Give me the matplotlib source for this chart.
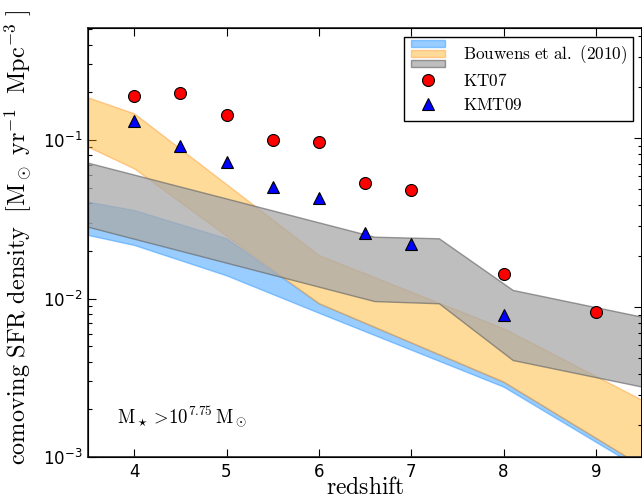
import matplotlib
matplotlib.use("Agg")
import matplotlib.pyplot as plt
import numpy as np
from matplotlib.legend_handler import HandlerBase
from matplotlib.patches import Rectangle
from matplotlib.ticker import NullFormatter

# ---------------- data ----------------
# Bouwens et al. (2010) bands (log10 SFR density)
blue_z = [3.5, 4.0, 5.0, 6.0, 8.0, 9.5]
blue_lo = [-1.599, -1.662, -1.854, -2.090, -2.556, -3.079]
blue_hi = [-1.389, -1.442, -1.620, -2.030, -2.525, -3.057]

orange_z = [3.5, 4.0, 6.0, 8.0, 9.5]
orange_lo = [-1.042, -1.179, -2.030, -2.525, -3.057]
orange_hi = [-0.731, -0.832, -1.726, -2.188, -2.640]

gray_z = [3.5, 6.6, 7.3, 8.1, 9.5]
gray_lo = [-1.547, -2.016, -2.030, -2.388, -2.556]
gray_hi = [-1.143, -1.610, -1.620, -1.946, -2.115]

# model points
kt07_z = [4, 4.5, 5, 5.5, 6, 6.5, 7, 8, 9]
kt07 = [0.190, 0.197, 0.144, 0.0997, 0.0967, 0.0538, 0.0484, 0.0142, 0.0082]

kmt09_z = [4, 4.5, 5, 5.5, 6, 6.5, 7, 8]
kmt09 = [0.131, 0.092, 0.0722, 0.0502, 0.0428, 0.0260, 0.0220, 0.0079]

xticks = [4, 5, 6, 7, 8, 9]

# face / edge colours (RGBA) of the three bands
band_faces = [(30/255, 144/255, 1.0, 0.45),
              (1.0, 165/255, 0.0, 0.40),
              (169/255, 169/255, 169/255, 0.75)]
band_edges = [(30/255, 144/255, 1.0, 0.45),
              (1.0, 150/255, 40/255, 0.45),
              (0.40, 0.40, 0.40, 0.65)]

# ---------------- figure ----------------
plt.rcParams["font.family"] = "DejaVu Sans"
fig = plt.figure(figsize=(6.42, 5.0), dpi=100)
ax = fig.add_axes([88 / 642, 43 / 500, 554 / 642, 429 / 500])

bands = [(blue_z, blue_lo, blue_hi), (orange_z, orange_lo, orange_hi),
         (gray_z, gray_lo, gray_hi)]
for (zz, lo, hi), fc, ec in zip(bands, band_faces, band_edges):
    ax.fill_between(zz, 10 ** np.array(lo), 10 ** np.array(hi),
                    facecolor=fc, edgecolor=ec, linewidth=1.0, zorder=2)

ax.plot(kt07_z, kt07, "o", color="red", mec="black", mew=0.8, ms=8.6,
        zorder=5, label=r"$\mathrm{KT07}$")
ax.plot(kmt09_z, kmt09, "^", color="blue", mec="black", mew=0.8, ms=8.4,
        zorder=5, label=r"$\mathrm{KMT09}$")

ax.set_yscale("log")
ax.set_xlim(3.5, 9.5)
ax.set_ylim(1e-3, 10 ** (-0.293))
ax.set_xticks(xticks)
ax.set_xticklabels([str(t) for t in xticks])

ax.tick_params(which="both", direction="in", top=True, right=False,
               labelsize=12)
ax.tick_params(which="major", length=6, width=0.8, pad=4)
ax.tick_params(which="minor", length=3, width=0.8)
for s in ax.spines.values():
    s.set_linewidth(1.2)
    s.set_color("#222222")

# twin right axis (unlabelled ticks)
ax2 = ax.twinx()
ax2.set_yscale("log")
ax2.set_ylim(10 ** (-1.887), 10 ** 0.651)
ax2.yaxis.set_major_formatter(NullFormatter())
ax2.yaxis.set_minor_formatter(NullFormatter())
ax2.tick_params(which="both", direction="in", labelright=False)
ax2.tick_params(which="major", length=6, width=0.8)
ax2.tick_params(which="minor", length=3, width=0.8)
ax2.spines["right"].set_linewidth(1.2)

ax.set_xlabel(r"$\mathrm{redshift}$", fontsize=17, math_fontfamily="cm",
              labelpad=-4)
ax.set_ylabel(r"$\mathrm{comoving\ SFR\ density}\ \ [\mathrm{M_\odot\ yr^{-1}\ \ Mpc^{-3}}\ ]$",
              fontsize=17.5, math_fontfamily="cm")
ax.yaxis.set_label_coords(-0.097, 0.513)

ax.text(0.052, 0.078, r"$\mathrm{M_\star >\! 10^{7.75}\, M_\odot}$",
        transform=ax.transAxes, fontsize=13.5, math_fontfamily="cm",
        va="baseline", ha="left")


class StackHandler(HandlerBase):
    def create_artists(self, legend, orig_handle, xdescent, ydescent,
                       width, height, fontsize, trans):
        ph, gap = 5.4, 1.8
        total = 3 * ph + 2 * gap
        yc = height / 2 - ydescent
        top = yc + total / 2
        arts = []
        for i, (fc, ec) in enumerate(zip(band_faces, band_edges)):
            y0 = top - (i + 1) * ph - i * gap
            r = Rectangle((-xdescent, y0), width, ph, facecolor=fc,
                          edgecolor=ec, lw=1.0, transform=trans)
            arts.append(r)
        return arts


h1, l1 = ax.get_legend_handles_labels()
stack = ("band",)
leg = ax2.legend([stack] + h1, [r"$\mathrm{Bouwens\ et\ al.\ (2010)}$"] + l1,
                 handler_map={tuple: StackHandler()}, loc="upper right",
                 frameon=True, fancybox=False, framealpha=1,
                 edgecolor="black", numpoints=1, handlelength=2.0,
                 handletextpad=1.0, borderaxespad=0.5, labelspacing=0.35,
                 prop={"math_fontfamily": "cm", "size": 12.3})
leg.get_frame().set_linewidth(1.0)

fig.savefig("out.png", dpi=100)
